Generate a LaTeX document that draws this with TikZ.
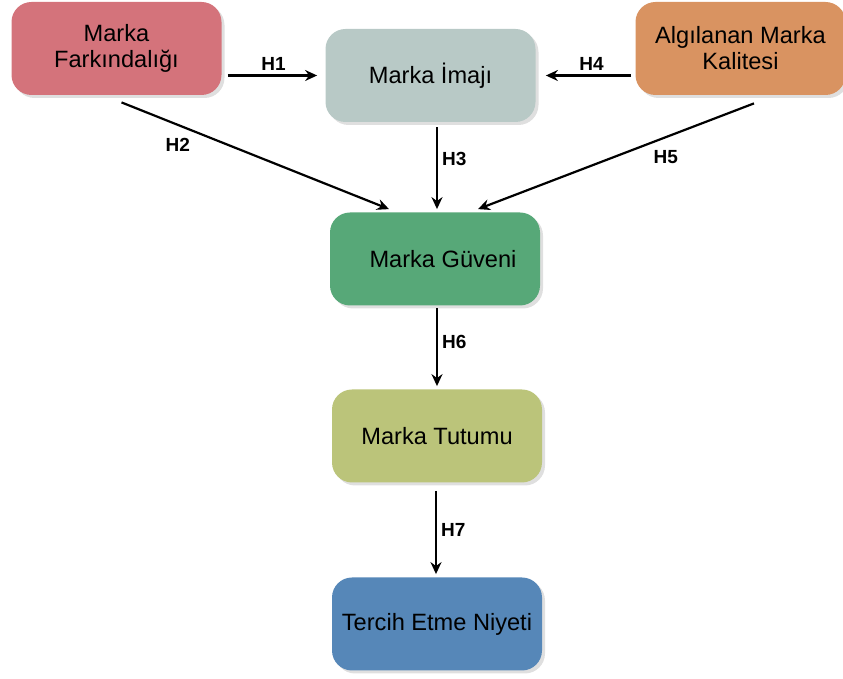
\documentclass[tikz,border=0pt]{standalone}
\usepackage{fontspec}
\setmainfont{Liberation Sans}
\usepackage{tikz}
\usetikzlibrary{calc,shadows,arrows.meta}
\definecolor{fark_red}{RGB}{212, 115, 123}
\definecolor{imaj_grey}{RGB}{184, 201, 198}
\definecolor{kal_orange}{RGB}{217, 147, 97}
\definecolor{guv_green}{RGB}{87, 168, 120}
\definecolor{tut_olive}{RGB}{187, 196, 122}
\definecolor{niy_blue}{RGB}{86, 135, 184}
\tikzstyle{box}=[rectangle,rounded corners=10pt,draw=none,inner sep=0pt,
  minimum width=105pt,minimum height=46.5pt,align=center,
  font=\fontsize{11.8}{13}\selectfont,
  drop shadow={shadow xshift=1.5pt,shadow yshift=-1.5pt,opacity=0.25}]
\tikzstyle{arr}=[line width=1.1pt,-{Stealth[length=6pt,width=5.5pt,inset=2pt]}]
\tikzstyle{hlab}=[font=\bfseries\fontsize{9.5}{10}\selectfont,inner sep=2pt]

\begin{document}
\begin{tikzpicture}[x=0.5pt,y=-0.5pt]
        \useasboundingbox (0,0) rectangle (843,679);
        \node [style=box, fill=fark_red] (fark) at (116.5,48.5) {Marka\\Farkındalığı};
        \node [style=box, fill=imaj_grey] (imaj) at (430.5,75.5) {Marka İmajı};
        \node [style=box, fill=kal_orange] (kal) at (740.5,48.5) {Algılanan Marka\\Kalitesi};
        \node [style=box, fill=guv_green] (guv) at (435,259) {\hspace{8pt}Marka Güveni};
        \node [style=box, fill=tut_olive] (tut) at (437,436) {Marka Tutumu};
        \node [style=box, fill=niy_blue] (niy) at (437,624) {Tercih Etme Niyeti};
        \draw [style=arr, shorten <=3pt, shorten >=4pt] (fark.east |- imaj.west) to node[style=hlab, midway, above] {H1} (imaj.west);
        \draw [style=arr] ($(fark.south)+(5,7)$) to node[style=hlab, pos=0.21, below=4pt] {H2} ($(guv.north)+(-46,-3)$);
        \draw [style=arr] ($(imaj.south)+(6.5,5)$) to node[style=hlab, pos=0.39, right] {H3} ($(guv.north)+(2,-3)$);
        \draw [style=arr, shorten <=2pt, shorten >=5pt] (kal.west |- imaj.east) to node[style=hlab, midway, above, xshift=3pt] {H4} (imaj.east);
        \draw [style=arr] ($(kal.south)+(13.5,8)$) to node[style=hlab, pos=0.32, below=4pt] {H5} ($(guv.north)+(43,-3)$);
        \draw [style=arr] ($(guv.south)+(2,2)$) to node[style=hlab, pos=0.43, right] {H6} ($(tut.north)+(0,-3)$);
        \draw [style=arr] ($(tut.south)+(-1,8)$) to node[style=hlab, pos=0.47, right] {H7} ($(niy.north)+(-1,-3)$);
    \end{tikzpicture}
\end{document}
